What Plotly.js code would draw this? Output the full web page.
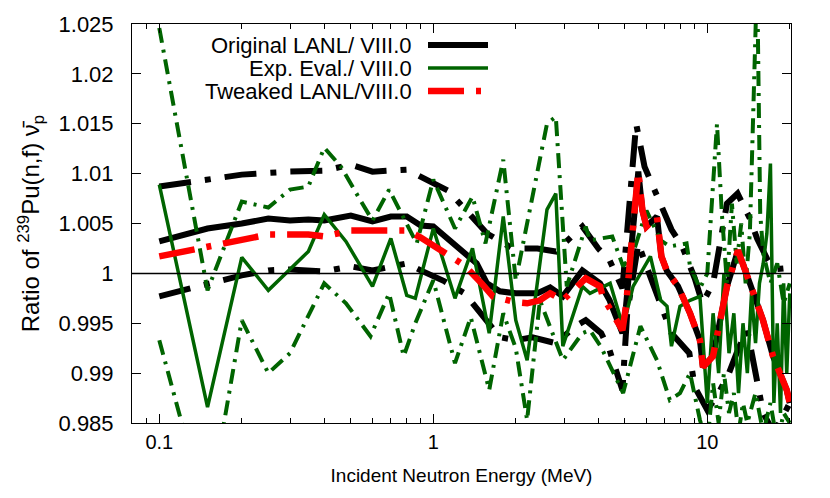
<!DOCTYPE html>
<html>
<head>
<meta charset="utf-8">
<script src="https://cdn.plot.ly/plotly-3.0.1.min.js"></script>
<style>html,body{margin:0;padding:0;background:#fff;}#chart{width:830px;height:498px;}</style>
</head>
<body>
<div id="chart"></div>
<script>
// ---- Data (energy in MeV, ratio to ENDF/B-VIII.0) ----
const origE = [0.1,0.15,0.2,0.25,0.3,0.35,0.4,0.5,0.6,0.7,0.8,0.9,1.0,1.28,1.44,1.57,1.75,2.0,2.4,2.67,2.97,3.5,4.06,4.4,4.9,5.05,5.36,5.6,5.8,6.0,6.55,6.8,7.13,7.82,8.65,9.4,9.64,10.49,11.8,12.94,14.3,15.97,17.37,19.5,20];
const origV = [1.0032,1.0045,1.0050,1.0055,1.0053,1.0054,1.0053,1.0058,1.0052,1.0057,1.0057,1.0048,1.0047,1.0022,1.0010,0.9990,0.9982,0.9980,0.9980,0.9986,0.9977,1.0003,0.9990,0.9973,0.9940,0.9967,1.0047,1.0102,1.0063,1.0047,1.0057,1.0017,1.0002,0.9987,0.9960,0.9933,0.9906,0.9917,0.9987,1.0023,0.9990,0.9953,0.9917,0.9883,0.9870];

const origUpE = [0.1,0.2,0.3,0.4,0.5,0.6,0.8,0.9,1.0,1.13,1.28,1.57,1.95,2.4,2.8,3.0,3.5,4.0,4.4,4.9,5.5,5.9,6.5,7.0,7.4,8.1,9.0,9.6,10.5,11.8,12.9,14.3,15.2,16.5,17.5,19.0,20];
const origUpV = [1.0087,1.0099,1.0102,1.0103,1.0109,1.0102,1.0104,1.0097,1.0090,1.0083,1.0067,1.0040,1.0025,1.0025,1.0022,1.0030,1.0047,1.0025,1.0013,0.9985,1.0150,1.0107,1.0080,1.0060,1.0044,1.0027,0.9995,0.9970,0.9990,1.0070,1.0080,1.0055,1.0035,1.0015,1.0004,1.0005,0.9995];

const origLoE = [0.1,0.15,0.2,0.25,0.3,0.4,0.5,0.6,0.8,0.9,1.1,1.3,1.45,1.75,2.0,2.3,2.8,3.3,3.6,4.1,4.4,4.9,5.1,5.6,6.0,6.6,7.4,8.6,9.0,10.0,11.0,12.0,13.0,14.0,15.0,16.0,17.5,19.0,20];
const origLoV = [0.9977,0.9990,0.9998,1.0003,1.0004,1.0002,1.0007,1.0003,1.0010,1.0003,0.9992,0.9980,0.9963,0.9936,0.9933,0.9936,0.9930,0.9947,0.9953,0.9940,0.9923,0.9883,0.9960,1.0030,1.0007,0.9975,0.9940,0.9920,0.9886,0.9863,0.9880,0.9900,0.9925,0.9943,0.9900,0.9860,0.9840,0.9860,0.9870];

const expE = [0.1,0.15,0.2,0.25,0.35,0.4,0.48,0.6,0.7,0.8,0.86,1.0,1.2,1.39,1.6,1.8,2.0,2.2,2.6,2.8,2.97,3.5,3.73,4.42,4.93,5.36,6.2,6.76,7.13,7.4,7.95,8.65,9.4,10.0,10.5,11.0,11.5,12.0,12.5,13.0,13.5,14.0,14.5,15.0,15.5,16.0,16.5,17.0,17.5,18.0,18.5,19.0,19.5,20];
const expV = [1.0089,0.9866,1.0016,0.9983,1.0022,1.0059,1.0032,0.9987,1.0035,0.9978,0.9975,1.0045,0.9975,1.0025,0.9940,1.0057,0.9953,0.9913,1.0064,1.0080,0.9927,0.9987,0.9980,0.9990,0.9946,0.9987,1.0017,0.9973,0.9967,0.9927,0.9967,0.9973,0.9977,0.9870,0.9960,0.9900,1.0000,0.9920,0.9960,0.9880,0.9950,0.9900,0.9980,0.9930,0.9990,1.0010,1.0040,1.0110,0.9870,0.9950,0.9860,0.9990,0.9900,0.9980];

const expUpE = [0.1,0.15,0.2,0.25,0.3,0.35,0.4,0.46,0.54,0.6,0.69,0.75,0.87,1.0,1.12,1.2,1.39,1.55,1.8,2.0,2.6,2.8,3.07,3.6,3.73,4.5,4.93,5.36,6.0,6.76,7.3,8.4,8.65,9.4,10.0,10.85,11.3,11.8,12.3,12.8,13.3,13.8,14.3,15.2,15.6,16.0,17.0,18.0,19.0,20];
const expUpV = [1.0246,0.9983,1.0072,1.0066,1.0084,1.0087,1.0126,1.0107,1.0074,1.0053,1.0084,1.0064,1.0030,1.0094,1.0064,1.0045,1.0077,1.0030,1.0114,0.9993,1.0150,1.0157,0.9987,1.0047,1.0033,1.0037,1.0007,1.0020,1.0063,1.0033,1.0027,1.0030,1.0007,0.9985,1.0000,1.0150,1.0060,0.9990,1.0070,1.0010,1.0050,0.9990,1.0040,1.0300,1.0060,1.0020,0.9990,1.0010,0.9970,0.9990];

const expLoE = [0.1,0.15,0.2,0.25,0.3,0.4,0.48,0.59,0.69,0.78,0.86,1.0,1.2,1.37,1.6,1.8,2.0,2.2,2.45,2.97,3.5,3.73,4.1,4.93,5.7,6.55,7.3,7.95,8.65,9.4,10.0,10.5,11.0,11.5,12.0,12.5,13.0,13.5,14.0,15.0,16.0,17.0,18.0,19.0,20];
const expLoV = [0.9933,0.9755,0.9953,0.9900,0.9920,0.9990,0.9970,0.9937,0.9980,0.9917,0.9950,0.9993,0.9910,0.9956,0.9883,0.9960,0.9925,0.9853,0.9973,0.9913,0.9940,0.9943,0.9926,0.9880,0.9947,0.9913,0.9873,0.9880,0.9900,0.9853,0.9830,0.9890,0.9850,0.9900,0.9860,0.9880,0.9840,0.9870,0.9850,0.9880,0.9840,0.9870,0.9830,0.9860,0.9850];

const tweakE = [0.1,0.15,0.2,0.25,0.3,0.35,0.4,0.5,0.6,0.7,0.8,0.9,1.0,1.15,1.3,1.5,1.65,2.0,2.2,2.45,2.67,2.97,3.6,4.06,4.15,4.9,5.05,5.36,5.6,5.8,6.0,6.55,6.8,7.13,7.82,8.65,9.4,9.64,10.49,11.8,12.94,14.3,15.97,17.37,19.5,20];
const tweakV = [1.0017,1.0027,1.0033,1.0039,1.0039,1.0039,1.0037,1.0043,1.0043,1.0043,1.0043,1.0036,1.0028,1.0018,1.0008,0.9990,0.9977,0.9971,0.9970,0.9973,0.9980,0.9973,0.9995,0.9987,0.9977,0.9943,0.9967,1.0047,1.0102,1.0063,1.0047,1.0057,1.0017,1.0002,0.9987,0.9960,0.9933,0.9906,0.9917,0.9987,1.0023,0.9990,0.9953,0.9917,0.9883,0.9870];

const yTickVals = [0.985,0.99,0.995,1.0,1.005,1.01,1.015,1.02,1.025];
const yTickText = ['0.985','0.99','0.995','1','1.005','1.01','1.015','1.02','1.025'];
const xTickVals = [0.1,1,10];
const xTickText = ['0.1','1','10'];
const xMinorVals = [0.08,0.09,0.2,0.3,0.4,0.5,0.6,0.7,0.8,0.9,2,3,4,5,6,7,8,9,20];
const legendNames = ['Original LANL/ VIII.0','Exp. Eval./ VIII.0','Tweaked LANL/VIII.0'];

// ---- Styles ----
const GREEN = '#006400';
const bandDash = '32px,14px,6px,14px';
const greenDash = '15px,7px,3px,7px';
const redDash = '36px,12px,5px,12px';

const traces = [
  {x: origUpE, y: origUpV, line:{color:'#000', width:6, dash: bandDash}},
  {x: origLoE, y: origLoV, line:{color:'#000', width:6, dash: bandDash}},
  {x: origE, y: origV, line:{color:'#000', width:6}},
  {x: expUpE, y: expUpV, line:{color:GREEN, width:4, dash: greenDash}},
  {x: expLoE, y: expLoV, line:{color:GREEN, width:4, dash: greenDash}},
  {x: expE, y: expV, line:{color:GREEN, width:3.5}},
  {x: tweakE, y: tweakV, line:{color:'#ff0000', width:6.5, dash: redDash}}
].map(t => Object.assign({type:'scatter', mode:'lines', showlegend:false, hoverinfo:'skip', cliponaxis:true}, t));

// Legend (gnuplot style: text then sample line)
const plotL = 132, plotR = 791, plotT = 24, plotB = 423;
const px2paperX = p => (p - plotL) / (plotR - plotL);
const px2paperY = p => (plotB - p) / (plotB - plotT);
const legRows = [45, 68, 91];
const legStyles = [
  {color:'#000', width:6, dash:'solid'},
  {color:GREEN, width:3.5, dash:'solid'},
  {color:'#ff0000', width:6.5, dash:redDash}
];
const FONT = 'Liberation Sans, Arial, sans-serif';
const annotations = legendNames.map((n,i) => ({
  xref:'paper', yref:'paper', x:px2paperX(414), y:px2paperY(legRows[i]),
  xanchor:'right', yanchor:'middle', text:n, showarrow:false,
  font:{family:FONT, size:22, color:'#000'}
}));
const shapes = legendNames.map((n,i) => ({
  type:'line', xref:'paper', yref:'paper',
  x0:px2paperX(428), x1:px2paperX(488), y0:px2paperY(legRows[i]), y1:px2paperY(legRows[i]),
  line: legStyles[i]
}));
shapes.unshift({type:'line', xref:'paper', yref:'y', x0:0, x1:1, y0:1, y1:1, line:{color:'#000', width:1.5}, layer:'above'});

const layout = {
  width:830, height:498,
  margin:{l:plotL, r:830-plotR, t:plotT, b:498-plotB},
  paper_bgcolor:'#fff', plot_bgcolor:'#fff',
  font:{family:FONT, color:'#000'},
  xaxis:{
    type:'log', range:[-1.0996, 1.3055],
    tickmode:'array', tickvals:xTickVals, ticktext:xTickText,
    ticks:'inside', ticklen:9, tickwidth:1, tickcolor:'#000',
    minor:{tickmode:'array', tickvals:xMinorVals, ticks:'inside', ticklen:5, tickwidth:1, tickcolor:'#000'},
    showline:true, linecolor:'#000', linewidth:1, mirror:'allticks',
    showgrid:false, zeroline:false,
    tickfont:{size:20}, ticklabelstandoff:1,
    title:{text:'Incident Neutron Energy (MeV)', font:{size:19}, standoff:16}
  },
  yaxis:{
    range:[0.985, 1.025],
    tickmode:'array', tickvals:yTickVals, ticktext:yTickText,
    ticks:'inside', ticklen:9, tickwidth:1, tickcolor:'#000',
    showline:true, linecolor:'#000', linewidth:1, mirror:'allticks',
    showgrid:false, zeroline:false,
    tickfont:{size:22}, ticklabelstandoff:13,
    title:{text:'Ratio of <sup>239</sup>Pu(n,f) \u03BD\u0304<sub>p</sub>', font:{size:24}, standoff:12}
  },
  shapes: shapes,
  annotations: annotations
};

Plotly.newPlot('chart', traces, layout, {displayModeBar:false, staticPlot:true});
</script>
</body>
</html>
